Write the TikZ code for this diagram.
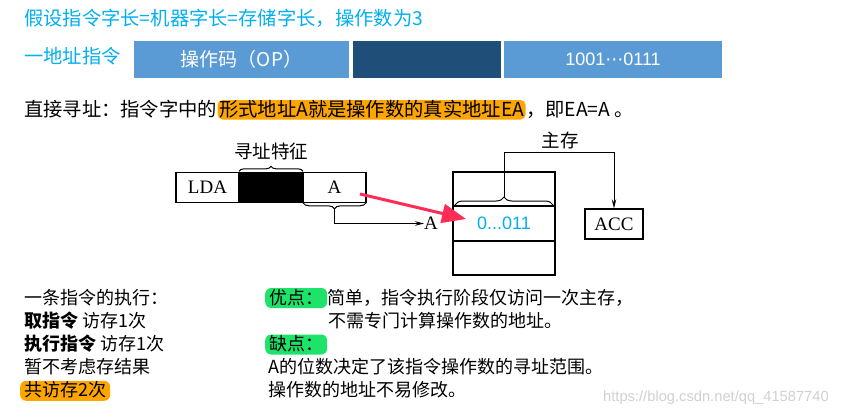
\documentclass[tikz,border=0pt]{standalone}
\usepackage{fontspec}
\setmainfont{Noto Sans CJK SC}
\newfontfamily\serifr{Liberation Serif}
\newfontfamily\sansr{Liberation Sans}
\newfontfamily\dejavu{DejaVu Sans}
\usetikzlibrary{arrows.meta,decorations.pathreplacing,calc}
\definecolor{cyantext}{RGB}{0,176,240}
\definecolor{barlight}{RGB}{91,155,213}
\definecolor{bardark}{RGB}{31,78,121}
\definecolor{hlorange}{RGB}{255,165,0}
\definecolor{hlgreen}{RGB}{30,227,107}
\definecolor{redarrow}{RGB}{255,45,85}
\begin{document}
\begin{tikzpicture}[x=1pt,y=-1pt,
  txt/.style={inner sep=0, anchor=base west, font=\fontsize{19.3}{21}\selectfont},
  btxt/.style={inner sep=0, anchor=base west, font=\fontsize{18}{20}\selectfont},
  hl/.style={inner xsep=4pt, inner ysep=0pt, text height=16pt, text depth=4pt, rounded corners=6pt},
  hlt/.style={inner xsep=1.5pt, inner ysep=0pt, text height=16pt, text depth=3.5pt, rounded corners=5pt},
  bar/.style={minimum height=36.7pt, inner sep=0, outer sep=0, anchor=north west, text=white, font=\fontsize{19}{21}\selectfont},
  cell/.style={draw, line width=1.3pt, minimum height=30.5pt, inner sep=0, outer sep=0, anchor=north west, font=\serifr\fontsize{19}{21}\selectfont},
  memcell/.style={draw, line width=1.3pt, minimum width=102pt, inner sep=0, outer sep=0, anchor=north west},
  lbl/.style={inner sep=0, font=\fontsize{18.5}{20}\selectfont},
  brc/.style={decorate, line width=1pt},
  conn/.style={line width=1pt, -{Stealth[length=9pt,width=4.5pt]}}
]
\useasboundingbox (0,0) rectangle (855,416);
\fill[white] (0,0) rectangle (855,416);

% header lines
\node[txt, text=cyantext] (t1) at (24,25.5) {假设指令字长=机器字长=存储字长，操作数为3};
\node[txt, text=cyantext] (t2) at (24,63) {一地址指令};

% instruction bar
\node[bar, fill=barlight, minimum width=215pt] (op) at (134,41) {操作码（OP）};
\node[bar, fill=bardark, minimum width=148pt] (mid) at (353,41) {};
\node[bar, fill=barlight, minimum width=218pt, font=\sansr\fontsize{18}{20}\selectfont] (addr) at (504,41) {1001{\dejavu ⋯}0111};

% line 3
\node[txt] (l3a) at (24,116) {直接寻址：指令字中的};
\node[txt, hlt, fill=hlorange, anchor=base west] (l3b) at (l3a.base east) {形式地址A就是操作数的真实地址EA};
\node[txt, anchor=base west] (l3c) at (l3b.base east) {，即EA=A 。};

% instruction word
\node[cell, minimum width=63pt] (lda) at (176,172.3) {LDA};
\node[cell, minimum width=64pt, fill=black] (blk) at (lda.north east) {};
\node[cell, minimum width=63pt] (acell) at (blk.north east) {A};
\node[lbl] (xzt) at (271,151.5) {寻址特征};
\draw[brc, decoration={brace, amplitude=5pt, raise=1pt}] (blk.north west) -- (blk.north east);
\draw[brc, decoration={brace, amplitude=6pt}] (acell.south east) -- (acell.south west);
\coordinate (btip) at ($(acell.south)+(0,6)$);
\node[inner sep=0, anchor=west, font=\serifr\fontsize{19}{21}\selectfont] (alab) at (424,223.5) {A};
\draw[conn] (btip) |- (alab.west);

% memory
\node[memcell, minimum height=34pt] (m1) at (453,172) {};
\node[memcell, minimum height=35pt, text=cyantext, font=\sansr\fontsize{18}{20}\selectfont] (m2) at (m1.south west) {0...011};
\node[memcell, minimum height=34pt] (m3) at (m2.south west) {};
\draw[brc, decoration={brace, amplitude=8pt, raise=1pt}] ($(m1.south west)+(2,0)$) -- ($(m1.south east)+(-2,0)$);
\coordinate (mtip) at ($(m1.south)+(0,-9)$);
\node[lbl] (zc) at (560,140) {主存};
\node[draw, line width=1.3pt, minimum width=58pt, minimum height=30pt, inner sep=0, font=\serifr\fontsize{19}{21}\selectfont] (acc) at (614,224) {ACC};
\draw[conn] (mtip) -- ++(0,-45) -| (acc.north);

% red arrow
\coordinate (redstart) at (360,194);
\coordinate (redend) at (466,219);
\draw[redarrow, line width=3pt, -{Triangle[length=24pt,width=19pt]}] (redstart) -- (redend);

% bottom left
\node[btxt] (b1) at (24,304) {一条指令的执行：};
\node[btxt] (b2) at (24,327) {\textbf{取指令} 访存1次};
\node[btxt] (b3) at (24,350.5) {\textbf{执行指令} 访存1次};
\node[btxt] (b4) at (24,373.5) {暂不考虑存结果};
\node[btxt, hl, fill=hlorange] (b5) at (20,396.8) {共访存2次};

% bottom right
\node[btxt, hl, fill=hlgreen] (yd) at (265,304) {优点：};
\node[btxt] (yd1) at (yd.base east) {简单，指令执行阶段仅访问一次主存，};
\node[btxt] (yd2) at (328.3,327) {不需专门计算操作数的地址。};
\node[btxt, hl, fill=hlgreen] (qd) at (265,350.5) {缺点：};
\node[btxt] (qd1) at (268,373.5) {A的位数决定了该指令操作数的寻址范围。};
\node[btxt] (qd2) at (268,396.8) {操作数的地址不易修改。};

% watermark
\node[inner sep=0, anchor=base west, text=black!18, font=\sansr\fontsize{14.7}{16}\selectfont] (wm) at (603,401.5) {https://blog.csdn.net/qq\_41587740};
\end{tikzpicture}
\end{document}
